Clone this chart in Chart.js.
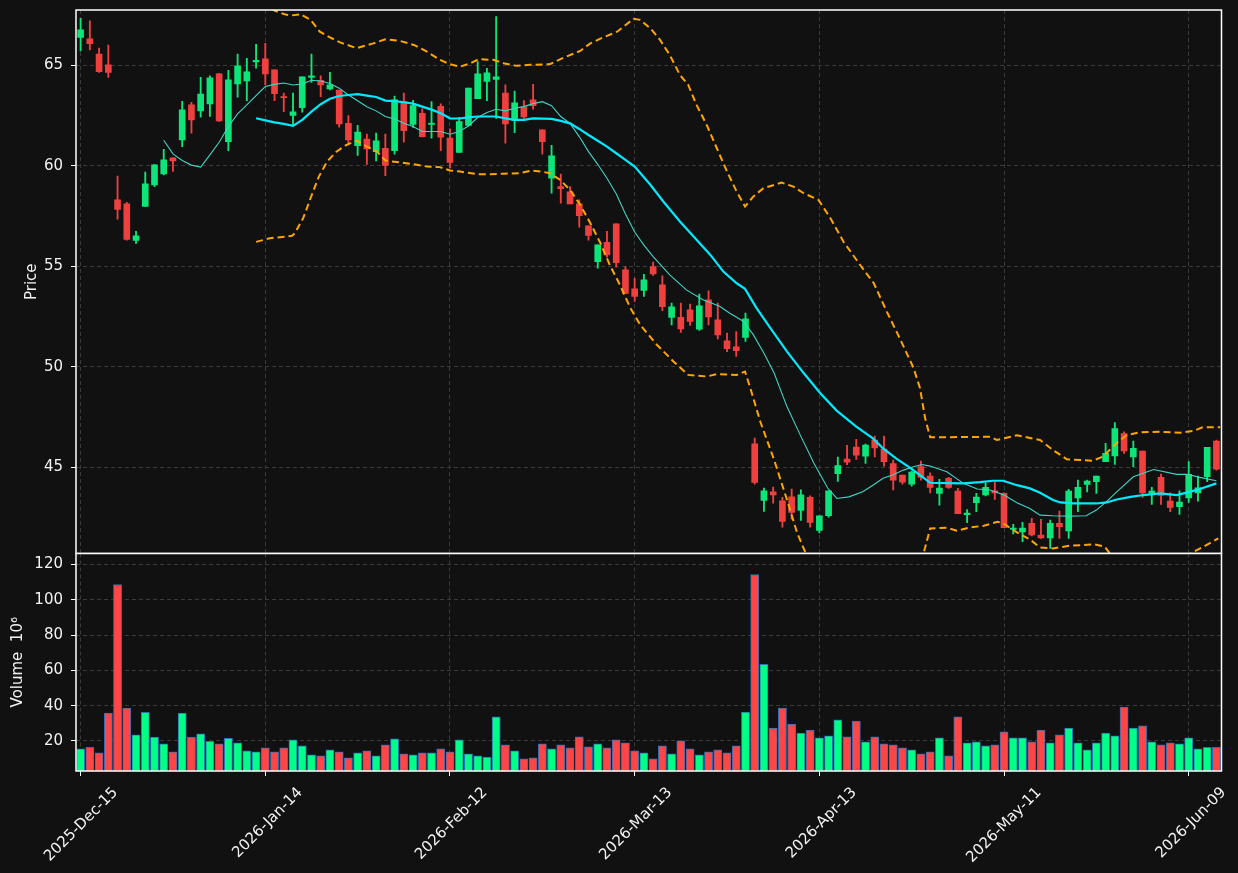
<!DOCTYPE html>
<html><head><meta charset="utf-8">
<script src="https://cdn.jsdelivr.net/npm/chart.js@4.4.1/dist/chart.umd.min.js"></script>
<style>
html,body{margin:0;padding:0;background:#111111;}
#wrap{position:relative;width:1238px;height:873px;overflow:hidden;background:#111111;}
#c1{position:absolute;left:0;top:0;}
#c2{position:absolute;left:0;top:540px;}
</style></head><body>
<div id="wrap">
<canvas id="c1" width="1238" height="554"></canvas>
<canvas id="c2" width="1238" height="333"></canvas>
</div>
<script>
// ---------- data ----------
const tickIdx = [0, 20, 40, 60, 80, 100, 120];
const tickLabels = ['2025-Dec-15','2026-Jan-14','2026-Feb-12','2026-Mar-13','2026-Apr-13','2026-May-11','2026-Jun-09'];

const opens = [66.38,66.31,65.56,65.02,58.30,58.10,56.28,57.97,59.05,59.59,
60.39,61.29,63.03,62.73,63.08,64.57,61.20,64.07,64.22,65.17,
65.32,64.77,63.44,62.50,62.89,64.39,64.25,63.82,63.77,62.11,
61.00,61.33,60.70,60.87,60.75,63.19,62.05,62.61,62.06,62.96,
61.38,60.66,62.00,63.34,64.19,64.30,63.62,62.26,62.93,63.28,
61.78,59.38,58.96,58.70,58.10,57.01,55.23,56.19,57.11,54.82,
53.87,53.79,54.98,54.07,52.45,52.46,52.83,51.87,53.33,52.33,
51.29,50.99,51.45,46.16,43.34,43.77,43.32,43.52,42.84,43.49,
41.85,42.58,44.67,45.40,46.00,45.55,46.34,45.90,45.18,44.60,
44.15,45.02,44.55,43.69,44.44,43.81,42.63,43.23,43.61,43.82,
43.69,41.90,41.77,42.20,41.62,41.48,42.20,41.83,43.47,44.14,
44.27,45.27,45.56,46.67,45.51,45.80,43.69,44.49,43.31,43.03,
43.47,43.72,44.52,46.29];
const highs = [67.34,67.21,65.85,66.00,59.49,58.18,56.74,59.68,60.06,60.82,
60.39,63.21,63.16,64.40,64.47,64.60,64.75,65.55,65.35,66.04,
66.09,64.77,63.61,63.61,64.42,65.55,64.47,64.65,63.77,62.50,
62.01,61.57,61.62,61.57,63.47,63.61,63.26,62.83,63.19,63.08,
61.83,62.41,63.87,65.18,64.85,67.42,64.02,63.71,63.24,64.05,
61.78,61.02,59.58,58.96,58.30,57.01,56.06,56.74,57.11,54.98,
54.40,54.60,55.20,54.52,53.16,53.16,53.11,53.61,53.77,53.16,
51.67,51.75,52.66,46.44,43.96,44.01,43.49,43.91,43.87,43.57,
42.58,43.82,45.50,46.08,46.38,46.14,46.54,46.54,45.35,44.60,
44.80,45.30,44.72,44.39,44.49,43.94,42.89,43.69,44.22,44.24,
43.72,42.15,42.25,42.45,42.40,42.36,42.81,43.89,44.35,44.35,
44.55,46.18,47.22,46.76,46.29,45.80,43.99,44.65,43.72,43.82,
45.27,44.55,45.98,46.34];
const lows = [65.71,65.76,64.64,64.40,57.34,56.29,56.13,57.97,58.96,59.54,
59.71,60.95,61.62,62.41,62.45,62.20,60.75,63.41,63.24,64.85,
64.02,63.24,62.69,62.03,62.66,64.15,63.44,63.77,61.92,61.04,
60.51,60.07,60.24,59.51,60.57,61.17,61.90,61.43,61.37,60.75,
59.88,60.66,62.00,63.34,63.24,62.36,61.12,61.65,62.36,62.81,
60.57,58.63,58.13,58.10,56.94,56.29,54.90,55.45,54.95,53.64,
53.24,53.49,54.54,52.79,52.08,51.70,52.05,51.80,52.08,51.38,
50.75,50.51,51.25,44.15,42.79,43.21,42.01,42.41,42.35,42.01,
41.72,42.51,44.29,45.12,45.38,45.18,45.51,45.05,43.86,44.15,
44.05,44.35,43.72,43.11,43.94,42.68,42.23,42.78,43.56,43.39,
41.98,41.67,41.29,41.58,41.45,40.95,41.45,41.45,42.78,43.77,
43.69,45.27,45.13,45.68,45.02,43.49,43.14,43.14,42.78,42.65,
43.24,43.31,44.27,44.85];
const closes = [66.76,66.08,64.68,64.64,57.82,56.33,56.51,59.10,60.04,60.29,
60.24,62.78,62.28,63.57,64.37,62.23,64.27,64.97,64.67,65.25,
64.57,63.59,63.39,62.68,64.42,64.47,64.02,64.02,62.08,61.29,
61.68,60.84,61.24,60.01,63.28,61.75,62.99,61.45,62.12,61.42,
60.16,62.20,63.87,64.57,64.62,64.42,62.08,63.13,62.43,62.99,
61.20,60.49,58.86,58.10,57.52,56.53,56.06,55.56,55.18,53.64,
53.49,54.32,54.62,52.99,52.98,51.88,52.25,53.03,52.48,51.58,
50.89,50.79,52.38,44.24,43.82,43.62,42.30,42.74,43.62,42.25,
42.58,43.82,45.07,45.25,45.60,46.09,45.96,45.27,44.35,44.25,
44.75,44.49,43.99,43.96,43.99,42.68,42.71,43.51,43.99,43.72,
41.98,41.97,41.97,41.62,41.48,42.20,42.03,43.81,43.99,44.30,
44.55,45.68,46.92,45.80,45.93,43.72,43.81,43.59,42.99,43.26,
44.64,43.97,45.98,44.90];
// volume in millions
const volumes = [15.5,16.4,13.2,35.8,108.7,38.6,23.4,36.2,22.1,18.3,
13.8,35.8,22.1,24.0,19.8,18.3,21.5,18.9,14.4,13.8,
16.0,13.8,16.0,20.6,17.2,12.1,11.5,14.9,13.8,10.4,
13.2,14.4,11.5,17.7,21.1,12.7,12.1,13.2,13.2,15.5,
13.8,20.6,12.7,11.5,10.8,33.6,17.7,14.4,9.8,10.4,
18.3,15.5,17.7,16.0,22.3,16.6,18.3,16.0,20.6,18.9,
14.4,13.2,9.8,17.2,12.7,20.0,15.5,12.1,13.8,14.9,
13.2,17.2,36.4,114.4,63.5,27.3,38.6,29.6,24.5,26.2,
21.7,22.8,31.9,22.3,31.3,19.4,22.3,18.3,17.7,16.0,
14.9,12.7,13.8,21.7,11.5,33.6,18.9,19.4,17.2,17.7,
25.1,21.7,21.7,19.4,26.2,18.9,23.4,27.3,18.9,14.9,
18.9,24.5,22.8,39.2,27.3,28.5,19.4,17.7,18.9,18.3,
21.7,15.5,16.4,16.4];
// overlay lines: [position, price]
const ma10 = [[9,61.27],[10,60.59],[11,60.26],[12,60.03],[13,59.93],[14,60.54],[15,61.17],[16,61.95],[17,62.58],[18,63.03],[19,63.49],[20,63.94],[21,64.05],[22,64.12],[23,64.02],[24,64.07],[25,64.25],[26,64.22],[27,64.09],[28,63.86],[29,63.52],[30,63.23],[31,62.94],[32,62.73],[33,62.45],[34,62.33],[35,62.11],[36,61.95],[37,61.70],[38,61.70],[39,61.70],[40,61.57],[41,61.70],[42,61.98],[43,62.40],[44,62.65],[45,62.81],[46,62.73],[47,62.86],[48,62.94],[49,63.09],[50,63.19],[51,62.99],[52,62.45],[53,62.11],[54,61.45],[55,60.70],[56,60.07],[57,59.38],[58,58.60],[59,57.60],[60,56.70],[61,56.05],[62,55.48],[63.8,54.57],[65.6,53.82],[67.4,53.33],[69.2,53.0],[70.3,52.66],[71.8,52.25],[72.86,51.58],[74,50.67],[75.1,49.68],[76.5,48.0],[78,46.53],[79.4,45.2],[80.9,43.96],[81.9,43.44],[83.2,43.52],[84.7,43.77],[85.8,44.10],[86.9,44.44],[88,44.62],[89.1,44.85],[90.2,45.02],[91.1,45.13],[92,45.05],[93.8,44.77],[95.6,44.19],[97.1,43.91],[98.5,43.86],[100,43.61],[101.4,43.23],[102.8,42.94],[103.9,42.61],[105.3,42.58],[107.1,42.56],[108.9,42.58],[110,42.86],[111.1,43.28],[112.2,43.77],[114,44.52],[116.2,44.88],[118.7,44.64],[119.8,44.64],[121.2,44.49],[123,44.32]];
const ma20 = [[19,62.36],[20,62.26],[21,62.16],[22,62.08],[23,61.98],[24,62.28],[25,62.69],[26,63.06],[27,63.33],[28,63.47],[29,63.52],[30,63.56],[31,63.49],[32,63.42],[33,63.24],[34,63.21],[35,63.16],[36,63.09],[37,62.94],[38,62.79],[39,62.61],[40,62.36],[41,62.35],[42,62.41],[43,62.45],[44,62.45],[45,62.45],[46,62.36],[47,62.28],[48,62.28],[49,62.36],[50,62.34],[51,62.33],[52,62.23],[53,62.11],[54,61.83],[55,61.53],[56,61.24],[57,60.95],[58,60.62],[59,60.29],[60,59.96],[61.7,59.05],[63.1,58.22],[64.9,57.22],[66.7,56.31],[68.2,55.56],[69.6,54.73],[71.05,54.15],[71.95,53.87],[73.2,52.91],[74.7,51.92],[76.5,50.75],[78.3,49.68],[80.1,48.68],[81.9,47.80],[84,47.01],[85.8,46.43],[86.9,45.93],[88.3,45.43],[89.8,44.97],[90.9,44.60],[92,44.22],[93.8,44.20],[95.6,44.19],[97.4,44.25],[98.8,44.32],[99.9,44.32],[101.4,44.10],[102.8,43.94],[103.9,43.72],[105.3,43.36],[106.1,43.24],[107.5,43.19],[110,43.19],[111.1,43.24],[112.2,43.39],[113.7,43.52],[115.1,43.61],[116.9,43.69],[118.7,43.61],[120.1,43.77],[121.2,43.91],[123,44.19]];
const bbUpper = [[19,68.6],[20,68.1],[21,67.72],[22,67.55],[22.7,67.47],[23.8,67.54],[24.9,67.26],[25.9,66.67],[27,66.39],[28.1,66.14],[29.9,65.85],[31.7,66.09],[33,66.29],[34.6,66.21],[36.1,66.01],[37.5,65.68],[38.9,65.27],[40,65.05],[41.1,64.93],[42.2,65.10],[43.1,65.30],[44.7,65.27],[45.8,65.10],[47.2,64.97],[48.7,65.02],[50.8,65.05],[52.3,65.38],[54.1,65.71],[55.2,66.09],[56.6,66.39],[58.1,66.67],[59.86,67.31],[60.6,67.26],[61.7,66.84],[62.75,66.26],[63.8,65.51],[64.9,64.52],[65.8,64.02],[66.7,63.03],[67.8,62.03],[68.9,60.87],[70,59.71],[71.05,58.71],[71.95,57.97],[72.86,58.47],[73.94,58.88],[75.9,59.16],[77.2,58.96],[78.3,58.63],[79.9,58.30],[81.2,57.39],[82.6,56.23],[84.4,55.07],[85.9,54.15],[87.3,52.74],[88.7,51.42],[90.2,49.93],[90.9,48.93],[91.45,47.44],[92,46.48],[98.5,46.51],[99.2,46.35],[101.4,46.58],[103.9,46.35],[105.3,45.85],[106.8,45.39],[109.6,45.32],[110.7,45.52],[112.2,46.20],[113.3,46.60],[114.7,46.73],[116.9,46.76],[119.1,46.71],[120.5,46.80],[121.5,46.98],[123.4,46.98]];
const bbLower = [[19,56.21],[20.5,56.39],[22.9,56.51],[23.2,56.64],[24.1,57.39],[24.9,58.38],[25.8,59.46],[26.7,60.21],[27.7,60.70],[28.8,61.04],[29.9,61.25],[31,60.95],[32.1,60.70],[33,60.26],[34.6,60.16],[36.1,60.07],[37.5,59.96],[38.9,59.93],[40,59.76],[41.1,59.71],[42.9,59.58],[44.3,59.58],[45.8,59.60],[47.6,59.63],[48.8,59.76],[49.9,59.71],[50.8,59.63],[51.9,59.30],[53,58.80],[54.1,58.05],[55.2,57.14],[56.3,56.14],[57.3,55.07],[58.4,54.07],[59.5,52.95],[60.6,52.08],[62.4,51.09],[64.2,50.26],[65.8,49.59],[67.8,49.51],[68.9,49.63],[71.05,49.59],[71.95,49.76],[72.5,48.97],[73.6,47.27],[75.1,45.36],[76.5,43.37],[77.6,41.72],[78.5,40.74],[80,38.6],[84,37.3],[88,37.6],[90,38.6],[91,40.2],[92,41.95],[93.8,41.98],[94.9,41.83],[96.3,42.0],[97.8,42.08],[99.3,42.28],[99.9,42.20],[101.4,41.75],[102.8,41.40],[103.9,41.0],[105.3,40.95],[107.1,41.09],[109.8,41.15],[110.9,41.04],[111.6,40.62],[113,39.9],[116,39.4],[119,40.3],[120.2,40.7],[121.6,41.04],[123.2,41.45]];

// ---------- styling ----------
const FONT = 'DejaVu Sans';
const TXT = '#f2f2f2';
const GRID = '#3a3a3a';
const UP_C = '#0de57a', DN_C = '#ef4040';
const UP_V = '#00ff87', DN_V = '#ff4646';
const X_MIN = -0.5, X_MAX = 123.55;

const idx = opens.map((_, i) => i);
const isUp = idx.map(i => closes[i] >= opens[i]);

const framePlugin = {
  id: 'frame',
  afterDraw(chart) {
    const {ctx, chartArea: a} = chart;
    ctx.save();
    ctx.strokeStyle = '#ffffff';
    ctx.lineWidth = 1.5;
    ctx.strokeRect(a.left, a.top, a.right - a.left, a.bottom - a.top);
    ctx.restore();
  }
};

const pts = arr => arr.map(p => ({x: p[0], y: p[1]}));
const fixY = s => { s.width = 76; s.paddingTop = 0; s.paddingBottom = 0; };

Chart.defaults.font.family = FONT;
Chart.defaults.color = TXT;

new Chart(document.getElementById('c1'), {
  type: 'bar',
  data: {
    datasets: [
      {type: 'line', data: pts(ma20), borderColor: '#00eaff', borderWidth: 2.2, pointRadius: 0, tension: 0, order: 0},
      {type: 'line', data: pts(ma10), borderColor: '#3fd4c4', borderWidth: 1.1, pointRadius: 0, tension: 0, order: 0},
      {type: 'line', data: pts(bbUpper), borderColor: '#ffa500', borderWidth: 2, borderDash: [7, 4], pointRadius: 0, tension: 0, order: 1},
      {type: 'line', data: pts(bbLower), borderColor: '#ffa500', borderWidth: 2, borderDash: [7, 4], pointRadius: 0, tension: 0, order: 1},
      {data: idx.map(i => ({x: i, y: [opens[i], closes[i]]})), backgroundColor: idx.map(i => isUp[i] ? UP_C : DN_C),
       barThickness: 6, grouped: false, borderWidth: 0, order: 2},
      {data: idx.map(i => ({x: i, y: [lows[i], highs[i]]})), backgroundColor: idx.map(i => isUp[i] ? UP_C : DN_C),
       barThickness: 1.2, grouped: false, borderWidth: 0, order: 3}
    ]
  },
  options: {
    responsive: false, animation: false,
    layout: {padding: {left: 0, right: 16.5, top: 10, bottom: 0.5}},
    plugins: {legend: {display: false}, tooltip: {enabled: false}},
    scales: {
      x: {
        type: 'linear', min: X_MIN, max: X_MAX, offset: false,
        afterBuildTicks: s => { s.ticks = tickIdx.map(v => ({value: v})); },
        ticks: {display: false},
        grid: {color: GRID, lineWidth: 1, drawTicks: false, offset: false},
        border: {display: false, dash: [4, 3]},
        afterFit: s => { s.height = 0; s.paddingLeft = 0; s.paddingRight = 0; }
      },
      y: {
        type: 'linear', min: 40.70, max: 67.75,
        afterBuildTicks: s => { s.ticks = [45, 50, 55, 60, 65].map(v => ({value: v})); },
        ticks: {color: TXT, font: {size: 15}, padding: 8},
        grid: {color: GRID, lineWidth: 1, drawTicks: true, tickLength: 5, tickColor: '#ffffff', tickWidth: 1},
        border: {display: false, dash: [4, 3]},
        title: {display: true, text: 'Price', color: TXT, font: {size: 15}, padding: {top: 23, bottom: 0}},
        afterFit: fixY
      }
    }
  },
  plugins: [framePlugin]
});

new Chart(document.getElementById('c2'), {
  type: 'bar',
  data: {
    datasets: [
      {data: idx.map(i => ({x: i, y: volumes[i]})), backgroundColor: idx.map(i => isUp[i] ? UP_V : DN_V),
       borderColor: '#2d6fb6', borderWidth: 1, barThickness: 8.2, grouped: false}
    ]
  },
  options: {
    responsive: false, animation: false,
    layout: {padding: {left: 0, right: 16.5, top: 13.5, bottom: 0}},
    plugins: {legend: {display: false}, tooltip: {enabled: false}},
    scales: {
      x: {
        type: 'linear', min: X_MIN, max: X_MAX, offset: false,
        afterBuildTicks: s => { s.ticks = tickIdx.map(v => ({value: v})); },
        ticks: {
          color: TXT, font: {size: 15}, autoSkip: false, maxRotation: 45, minRotation: 45,
          padding: 8, labelOffset: 35,
          callback: v => { const k = tickIdx.indexOf(v); return k >= 0 ? tickLabels[k] : ''; }
        },
        grid: {color: GRID, lineWidth: 1, drawTicks: true, tickLength: 5, tickColor: '#ffffff', tickWidth: 1, offset: false},
        border: {display: false, dash: [4, 3]},
        afterFit: s => { s.height = 102; s.paddingLeft = 0; s.paddingRight = 0; }
      },
      y: {
        type: 'linear', min: 2.92, max: 126.3,
        afterBuildTicks: s => { s.ticks = [20, 40, 60, 80, 100, 120].map(v => ({value: v})); },
        ticks: {color: TXT, font: {size: 15}, padding: 8},
        grid: {color: GRID, lineWidth: 1, drawTicks: true, tickLength: 5, tickColor: '#ffffff', tickWidth: 1},
        border: {display: false, dash: [4, 3]},
        title: {display: true, text: 'Volume  10⁶', color: TXT, font: {size: 15}, padding: {top: 9, bottom: 0}},
        afterFit: fixY
      }
    }
  },
  plugins: [framePlugin]
});
</script>
</body></html>
